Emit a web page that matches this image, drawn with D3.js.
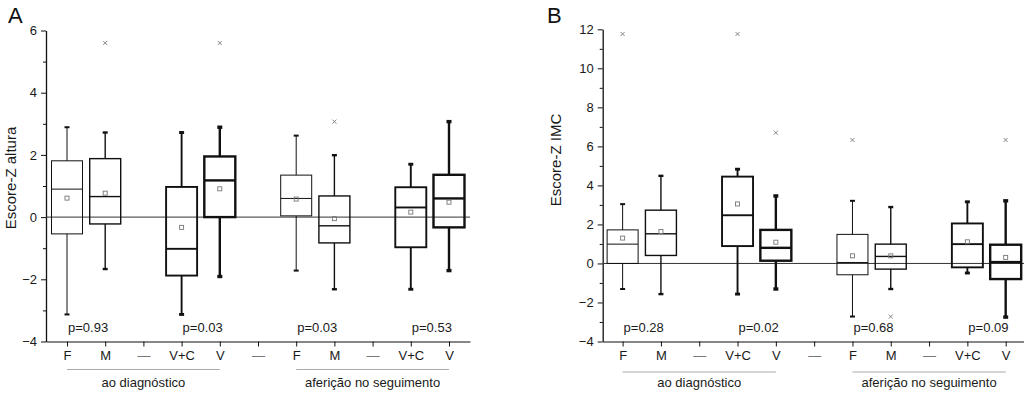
<!DOCTYPE html>
<html><head><meta charset="utf-8">
<script src="https://cdn.jsdelivr.net/npm/d3@7/dist/d3.min.js"></script>
<style>
html,body{margin:0;padding:0;background:#fff;}
svg{display:block;font-family:"Liberation Sans",Arial,Helvetica,sans-serif;}
</style></head>
<body>
<svg id="chart" width="1024" height="393"></svg>
<script>
// ---- data ----
const categories = ["F","M","—","V+C","V","—","F","M","—","V+C","V"];
const boxPositions = [0,1,3,4,6,7,9,10];
const boxSeries = ["F","M","V+C","V","F","M","V+C","V"];

// Panel A: Escore-Z altura
const alturaWhiskerHigh = [2.89, 2.72, 2.72, 2.89, 2.62, 1.99, 1.70, 3.07];
const alturaQ3          = [1.81, 1.88, 0.97, 1.95, 1.35, 0.68, 0.96, 1.36];
const alturaMedian      = [0.90, 0.66, -1.02, 1.18, 0.60, -0.28, 0.31, 0.60];
const alturaMean        = [0.61, 0.77, -0.33, 0.91, 0.58, -0.05, 0.16, 0.48];
const alturaQ1          = [-0.54, -0.22, -1.88, 0.00, 0.04, -0.83, -0.97, -0.33];
const alturaWhiskerLow  = [-3.13, -1.67, -3.13, -1.91, -1.72, -2.32, -2.32, -1.72];
const alturaOutliers    = [[], [5.6], [], [5.6], [], [3.07], [], []];
const alturaPValues     = ["p=0.93","p=0.03","p=0.03","p=0.53"];

// Panel B: Escore-Z IMC
const imcWhiskerHigh = [3.04, 4.49, 4.83, 3.46, 3.21, 2.89, 3.16, 3.21];
const imcQ3          = [1.72, 2.73, 4.45, 1.72, 1.49, 0.99, 2.05, 0.96];
const imcMedian      = [0.99, 1.52, 2.47, 0.80, 0.05, 0.36, 0.99, 0.07];
const imcMean        = [1.30, 1.64, 3.05, 1.09, 0.39, 0.39, 1.11, 0.31];
const imcQ1          = [0.00, 0.41, 0.89, 0.14, -0.58, -0.29, -0.20, -0.80];
const imcWhiskerLow  = [-1.31, -1.57, -1.57, -1.31, -2.72, -1.31, -0.49, -2.75];
const imcOutliers    = [[11.76], [], [11.76], [6.70], [6.33], [-2.72], [], [6.33]];
const imcPValues     = ["p=0.28","p=0.02","p=0.68","p=0.09"];

const pValuePositions = [0,3,6,9];
const groupLabels = ["ao diagnóstico","aferição no seguimento"];
const groupSpans = [[0,4],[6,10]];

const alturaTicks = [-4,-2,0,2,4,6];
const imcTicks = [-4,-2,0,2,4,6,8,10,12];

// ---- drawing ----
const svg = d3.select("#chart");
const strokeBySeries = {"F":1.0,"M":1.4,"V+C":1.9,"V":2.4};
const boxW = 31;

function panel(cfg){
  const g = svg.append("g");
  const x = d3.scaleLinear().domain(cfg.xDomain).range(cfg.xRange);
  const y = d3.scaleLinear().domain(cfg.yDomain).range(cfg.yRange);
  const yBase = cfg.yRange[0];

  // minor y ticks
  const minor = d3.range(cfg.yDomain[0], cfg.yDomain[1]+0.001, 1).filter(v => !cfg.ticks.includes(v));
  g.append("g").attr("transform",`translate(${cfg.xRange[0]},0)`)
    .call(d3.axisLeft(y).tickValues(minor).tickSize(3).tickFormat(""))
    .call(a=>a.select(".domain").remove())
    .selectAll("line").attr("stroke","#111").attr("stroke-width",1);

  // major y axis
  const ya = g.append("g").attr("transform",`translate(${cfg.xRange[0]},0)`)
    .call(d3.axisLeft(y).tickValues(cfg.ticks).tickSize(5).tickSizeOuter(0).tickPadding(4).tickFormat(d3.format("d")));
  ya.select(".domain").attr("stroke","#111").attr("stroke-width",1.3);
  ya.selectAll("line").attr("stroke","#111").attr("stroke-width",1);
  ya.selectAll("text").attr("font-size",13).attr("fill","#1a1a1a").attr("font-family","Liberation Sans, Arial, sans-serif");

  // x axis
  const xa = g.append("g").attr("transform",`translate(0,${yBase})`)
    .call(d3.axisBottom(x).tickValues(d3.range(categories.length)).tickSize(5).tickSizeOuter(0).tickPadding(4)
      .tickFormat(i => categories[i]));
  xa.select(".domain").attr("stroke","#111").attr("stroke-width",1.2);
  xa.selectAll("line").attr("stroke","#111").attr("stroke-width",1);
  xa.selectAll("text").attr("font-size",13).attr("font-family","Liberation Sans, Arial, sans-serif")
    .attr("fill", i => categories[i]==="—" ? "#777" : "#1a1a1a");

  // zero line
  g.append("line").attr("x1",cfg.xRange[0]).attr("x2",cfg.xRange[1])
    .attr("y1",y(0)).attr("y2",y(0)).attr("stroke","#333").attr("stroke-width",1);

  // boxes
  boxPositions.forEach((p,i)=>{
    const cx = x(p), sw = strokeBySeries[boxSeries[i]];
    const bg = g.append("g").attr("stroke","#111").attr("fill","none").attr("stroke-width",sw);
    bg.append("line").attr("x1",cx).attr("x2",cx).attr("y1",y(cfg.wh[i])).attr("y2",y(cfg.q3[i]));
    bg.append("line").attr("x1",cx).attr("x2",cx).attr("y1",y(cfg.q1[i])).attr("y2",y(cfg.wl[i]));
    [cfg.wh[i], cfg.wl[i]].forEach(v=>{
      bg.append("line").attr("x1",cx-2.5).attr("x2",cx+2.5).attr("y1",y(v)).attr("y2",y(v)).attr("stroke-width",sw+1);
    });
    bg.append("rect").attr("x",cx-boxW/2).attr("width",boxW)
      .attr("y",y(cfg.q3[i])).attr("height",y(cfg.q1[i])-y(cfg.q3[i]));
    bg.append("line").attr("x1",cx-boxW/2).attr("x2",cx+boxW/2).attr("y1",y(cfg.med[i])).attr("y2",y(cfg.med[i]));
    // mean
    g.append("rect").attr("x",cx-2).attr("y",y(cfg.mean[i])-2).attr("width",4).attr("height",4)
      .attr("fill","none").attr("stroke","#777").attr("stroke-width",0.9);
    // outliers
    cfg.out[i].forEach(v=>{
      const oy = y(v);
      g.append("path").attr("d",`M${cx-2},${oy-2}L${cx+2},${oy+2}M${cx-2},${oy+2}L${cx+2},${oy-2}`)
        .attr("stroke","#777").attr("stroke-width",0.9);
    });
  });

  // p-values
  pValuePositions.forEach((p,i)=>{
    g.append("text").attr("x",x(p)+1).attr("y",cfg.yRange[0]-9.5).attr("font-size",13)
      .attr("fill","#1a1a1a").text(cfg.pv[i]);
  });

  // group lines and labels
  groupSpans.forEach((s,i)=>{
    g.append("line").attr("x1",x(s[0])).attr("x2",x(s[1])).attr("y1",cfg.groupLineY).attr("y2",cfg.groupLineY)
      .attr("stroke","#aaa").attr("stroke-width",1);
    g.append("text").attr("x",(x(s[0])+x(s[1]))/2).attr("y",387).attr("text-anchor","middle")
      .attr("font-size",13).attr("fill","#1a1a1a").text(groupLabels[i]);
  });

  // y title
  g.append("text").attr("transform",`translate(${cfg.titleX},${cfg.titleY}) rotate(-90)`)
    .attr("text-anchor","middle").attr("dominant-baseline","central").attr("font-size",15).attr("fill","#1a1a1a").text(cfg.title);

  // panel letter
  g.append("text").attr("x",cfg.letterX).attr("y",23).attr("font-size",22).attr("fill","#111").text(cfg.letter);
}

panel({
  xDomain:[-0.55,10.55], xRange:[46,470], yDomain:[-4,6], yRange:[341.5,30.5], ticks:alturaTicks,
  wh:alturaWhiskerHigh, q3:alturaQ3, med:alturaMedian, mean:alturaMean, q1:alturaQ1, wl:alturaWhiskerLow,
  out:alturaOutliers, pv:alturaPValues, groupLineY:369.5, title:"Escore-Z altura", titleX:10, titleY:178,
  letter:"A", letterX:8
});
panel({
  xDomain:[-0.52,10.52], xRange:[602.7,1025.6], yDomain:[-4,12], yRange:[341.5,29.3], ticks:imcTicks,
  wh:imcWhiskerHigh, q3:imcQ3, med:imcMedian, mean:imcMean, q1:imcQ1, wl:imcWhiskerLow,
  out:imcOutliers, pv:imcPValues, groupLineY:372, title:"Escore-Z IMC", titleX:555, titleY:160,
  letter:"B", letterX:547
});
</script>
</body></html>
